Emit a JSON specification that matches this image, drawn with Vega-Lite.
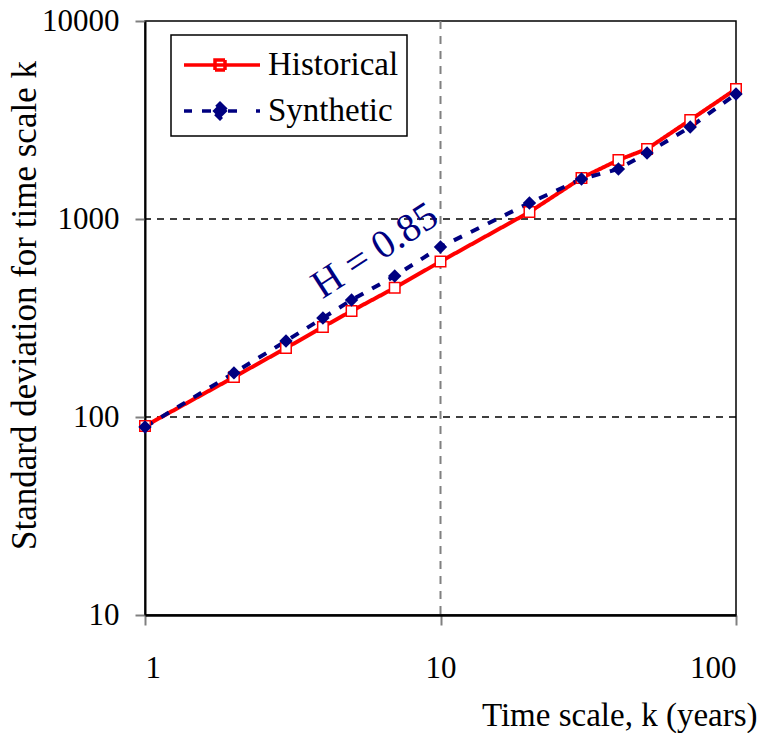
{
  "$schema": "https://vega.github.io/schema/vega-lite/v6.json",
  "width": 591,
  "height": 594,
  "autosize": {"type": "none"},
  "padding": {"left": 145, "top": 21, "right": 26, "bottom": 118},
  "background": "white",
  "config": {
    "font": "Liberation Serif",
    "view": {"stroke": "black", "strokeWidth": 1.5}
  },
  "datasets": {
    "series": [
      {"k": 1, "sd": 90, "series": "Historical"},
      {"k": 2, "sd": 159, "series": "Historical"},
      {"k": 3, "sd": 223, "series": "Historical"},
      {"k": 4, "sd": 285, "series": "Historical"},
      {"k": 5, "sd": 343, "series": "Historical"},
      {"k": 7, "sd": 449, "series": "Historical"},
      {"k": 10, "sd": 610, "series": "Historical"},
      {"k": 20, "sd": 1084, "series": "Historical"},
      {"k": 30, "sd": 1611, "series": "Historical"},
      {"k": 40, "sd": 1986, "series": "Historical"},
      {"k": 50, "sd": 2258, "series": "Historical"},
      {"k": 70, "sd": 3162, "series": "Historical"},
      {"k": 100, "sd": 4535, "series": "Historical"},
      {"k": 1, "sd": 89, "series": "Synthetic"},
      {"k": 2, "sd": 167, "series": "Synthetic"},
      {"k": 3, "sd": 242, "series": "Synthetic"},
      {"k": 4, "sd": 316, "series": "Synthetic"},
      {"k": 5, "sd": 390, "series": "Synthetic"},
      {"k": 7, "sd": 515, "series": "Synthetic"},
      {"k": 10, "sd": 722, "series": "Synthetic"},
      {"k": 20, "sd": 1205, "series": "Synthetic"},
      {"k": 30, "sd": 1592, "series": "Synthetic"},
      {"k": 40, "sd": 1789, "series": "Synthetic"},
      {"k": 50, "sd": 2154, "series": "Synthetic"},
      {"k": 70, "sd": 2915, "series": "Synthetic"},
      {"k": 100, "sd": 4280, "series": "Synthetic"}
    ],
    "xgrid": [{"v": 10}],
    "ygrid": [{"v": 100}, {"v": 1000}],
    "note": [{"k": 6.0, "sd": 690, "text": "H = 0.85"}]
  },
  "layer": [
    {
      "data": {"name": "xgrid"},
      "mark": {"type": "rule", "color": "#808080", "strokeWidth": 2, "strokeDash": [8, 7]},
      "encoding": {
        "x": {"field": "v", "type": "quantitative", "scale": {"type": "log", "domain": [1, 100]}}
      }
    },
    {
      "data": {"name": "ygrid"},
      "mark": {"type": "rule", "color": "black", "strokeWidth": 1.3, "strokeDash": [7, 6]},
      "encoding": {
        "y": {"field": "v", "type": "quantitative", "scale": {"type": "log", "domain": [10, 10000]}}
      }
    },
    {
      "data": {"name": "series"},
      "mark": {"type": "line", "strokeWidth": 4, "strokeCap": "butt"},
      "encoding": {
        "x": {
          "field": "k", "type": "quantitative",
          "scale": {"type": "log", "domain": [1, 100]},
          "axis": {
            "values": [1, 10, 100], "format": "d", "grid": false,
            "domainColor": "black", "domainWidth": 2.5,
            "tickColor": "#808080", "tickWidth": 2, "tickSize": 10,
            "labelFont": "Liberation Serif", "labelFontSize": 31, "labelColor": "black",
            "labelPadding": 28,
            "title": "Time scale, k  (years)",
            "titleFont": "Liberation Serif", "titleFontSize": 33, "titleFontWeight": "normal", "titleColor": "black",
            "titleAnchor": "end", "titleAlign": "right", "titleBaseline": "alphabetic",
            "titleX": 612, "titleY": 110
          }
        },
        "y": {
          "field": "sd", "type": "quantitative",
          "scale": {"type": "log", "domain": [10, 10000]},
          "axis": {
            "values": [10, 100, 1000, 10000], "format": "d", "grid": false,
            "domainColor": "black", "domainWidth": 2,
            "tickColor": "#808080", "tickWidth": 2, "tickSize": 10,
            "labelFont": "Liberation Serif", "labelFontSize": 31, "labelColor": "black",
            "labelPadding": 16,
            "title": "Standard deviation for time scale k",
            "titleFont": "Liberation Serif", "titleFontSize": 35, "titleFontWeight": "normal", "titleColor": "black",
            "titleAngle": 270, "titleAlign": "center", "titleBaseline": "middle",
            "titleX": -121, "titleY": 284
          }
        },
        "color": {
          "field": "series", "type": "nominal",
          "scale": {"domain": ["Historical", "Synthetic"], "range": ["#ff0000", "#000080"]},
          "legend": {
            "title": null,
            "orient": "none",
            "legendX": 26,
            "legendY": 14,
            "strokeColor": "black",
            "fillColor": "white",
            "padding": 8,
            "symbolSize": 1600,
            "symbolStrokeWidth": 3.5,
            "labelFont": "Liberation Serif",
            "labelFontSize": 33,
            "labelColor": "black",
            "labelOffset": 45,
            "rowPadding": 7,
            "labelLimit": 300,
            "encode": {
              "legend": {
                "update": {
                  "strokeWidth": {"value": 1.5}
                }
              },
              "symbols": {
                "update": {
                  "shape": {"signal": "datum.value === 'Historical' ? 'M-0.85,0H2.95M0.7,-0.25H1.2V0.25H0.7Z' : 'M-0.85,0H-0.45M0.05,0H0.55M1.35,0H1.85M2.75,0H2.95M0.95,-0.38L1.33,0L0.95,0.38L0.57,0Z'"},
                  "fill": {"signal": "datum.value === 'Historical' ? 'white' : '#000080'"},
                  "stroke": {"signal": "datum.value === 'Historical' ? '#ff0000' : '#000080'"},
                  "strokeDash": {"value": [1, 0]},
                  "strokeWidth": {"value": 3.5}
                }
              }
            }
          }
        },
        "strokeDash": {
          "field": "series", "type": "nominal",
          "scale": {"domain": ["Historical", "Synthetic"], "range": [[1, 0], [9, 10]]},
          "legend": null
        }
      }
    },
    {
      "data": {"name": "series"},
      "transform": [{"filter": "datum.series === 'Historical'"}],
      "mark": {"type": "point", "shape": "square", "size": 110, "filled": false, "fill": "white", "fillOpacity": 1, "stroke": "#ff0000", "strokeWidth": 1.5, "opacity": 1},
      "encoding": {
        "x": {"field": "k", "type": "quantitative"},
        "y": {"field": "sd", "type": "quantitative"}
      }
    },
    {
      "data": {"name": "series"},
      "transform": [{"filter": "datum.series === 'Synthetic'"}],
      "mark": {"type": "point", "shape": "diamond", "size": 180, "filled": true, "color": "#000080", "opacity": 1},
      "encoding": {
        "x": {"field": "k", "type": "quantitative"},
        "y": {"field": "sd", "type": "quantitative"}
      }
    },
    {
      "data": {"name": "note"},
      "mark": {"type": "text", "font": "Liberation Serif", "fontSize": 40, "color": "#000080", "angle": -33, "align": "center", "baseline": "middle"},
      "encoding": {
        "x": {"field": "k", "type": "quantitative"},
        "y": {"field": "sd", "type": "quantitative"},
        "text": {"field": "text"}
      }
    }
  ]
}
